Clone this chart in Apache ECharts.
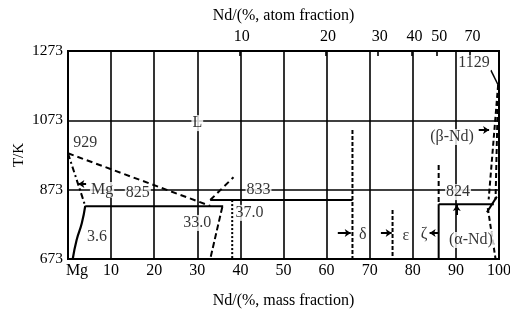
<!DOCTYPE html>
<html>
<head>
<meta charset="utf-8">
<script src="https://cdn.jsdelivr.net/npm/echarts@6.0.0/dist/echarts.min.js"></script>
<style>
  html, body { margin: 0; padding: 0; background: #fff; }
  #main { width: 510px; height: 310px; }
</style>
</head>
<body>
<div id="main"></div>
<script>
// Mg-Nd phase diagram (mass %, K)
var yTicks = [673, 873, 1073, 1273];
var atomTicks = [10, 20, 30, 40, 50, 70];

var mgLiquidus = [[0, 978], [33, 826]];
var mgSolidus = [[0, 978], [4, 826]];
var mgSolvus = [[4, 826], [3.2, 776], [2.0, 728], [1.1, 673]];
var eutectic825 = [[4, 825], [36, 825]];
var liquidus37 = [[33, 843], [38.4, 909]];
var line833 = [[33, 843], [66, 843]];
var phase33 = [[35.8, 823], [33, 673]];
var phase37 = [[38.1, 843], [38.1, 673]];
var deltaLine = [[66, 1045], [66, 673]];
var epsLine = [[75.3, 814], [75.3, 673]];
var zetaUpper = [[86, 944], [86, 831]];
var zetaLower = [[86, 831], [86, 673]];
var line824 = [[86, 831], [98.8, 831]];
var ndLeader = [[98.1, 1218], [99.8, 1175]];
var ndLiq1 = [[99.8, 1175], [97.6, 845]];
var ndLiq2 = [[99.8, 1175], [99.2, 845]];
var ndSolvus = [[97.4, 820], [99.2, 673]];
var ndCross = [[97.2, 808], [99.5, 853]];

// small pointer arrows next to the phase names
var arrows = [
  [[4.2, 889], [2.4, 889]],
  [[62.6, 748], [65.6, 748]],
  [[72.6, 748], [75.1, 748]],
  [[86, 748], [83.9, 748]],
  [[95.3, 1045], [97.7, 1045]],
  [[90.2, 800], [90.2, 829]]
];

var notes = [
  [4.0, 1008, '929'],
  [7.9, 872, 'Mg'],
  [16.2, 863, '825'],
  [6.7, 736, '3.6'],
  [30, 1065, 'L'],
  [30, 777, '33.0'],
  [42.1, 806, '37.0'],
  [44.2, 872, '833'],
  [68.4, 742, 'δ'],
  [78.4, 739, 'ε'],
  [82.6, 745, 'ζ'],
  [90.5, 866, '824'],
  [89.1, 1025, '(β-Nd)'],
  [93.5, 728, '(α-Nd)'],
  [94.2, 1238, '1129']
];

// atom % -> mass % (Mg 24.305, Nd 144.24), for the top axis
function atomToMass(a) {
  var nd = a * 144.24, mg = (100 - a) * 24.305;
  return 100 * nd / (nd + mg);
}
var atomMass = atomTicks.map(atomToMass);

var font = 'Liberation Serif';
var ink = '#000';

function seg(data, type, width) {
  return {
    type: 'line', data: data, symbol: 'none', silent: true,
    lineStyle: { color: ink, width: width || 2, type: type || 'solid' },
    z: 3
  };
}

var series = [
  seg(mgLiquidus, [6, 4]),
  seg(mgSolidus, [6, 3, 2, 3]),
  Object.assign(seg(mgSolvus, 'solid', 2.2), { smooth: true }),
  seg(eutectic825, 'solid', 2),
  seg(liquidus37, [6, 4]),
  seg(line833, 'solid', 2),
  seg(phase33, [6, 3]),
  seg(phase37, [2, 2]),
  seg(deltaLine, [4, 2]),
  seg(epsLine, [4, 2]),
  seg(zetaUpper, [5, 3]),
  seg(zetaLower, 'solid', 2),
  seg(line824, 'solid', 2),
  seg(ndLeader, 'solid', 1.5),
  seg(ndLiq1, [5, 3]),
  seg(ndLiq2, [5, 3]),
  seg(ndSolvus, [5, 3]),
  seg(ndCross, 'solid', 2)
];

series.push({
  type: 'lines',
  coordinateSystem: 'cartesian2d',
  silent: true,
  symbol: ['none', 'arrow'],
  symbolSize: 6,
  lineStyle: { color: ink, width: 2, opacity: 1 },
  data: arrows.map(function (a) { return { coords: a }; }),
  z: 4
});

series.push({
  type: 'scatter',
  data: notes,
  symbolSize: 1,
  silent: true,
  itemStyle: { color: 'transparent' },
  z: 10,
  label: {
    show: true,
    position: 'inside',
    formatter: function (p) { return p.value[2]; },
    color: ink,
    fontFamily: font,
    fontSize: 16,
    backgroundColor: '#fff',
    padding: [0, 1]
  }
});

var chart = echarts.init(document.getElementById('main'), null, { renderer: 'canvas' });
chart.setOption({
  backgroundColor: '#fff',
  animation: false,
  textStyle: { fontFamily: font },
  grid: {
    left: 68, right: 11, top: 51, bottom: 51,
    outerBoundsMode: 'none',
    show: true, borderColor: ink, borderWidth: 2
  },
  xAxis: [{
    type: 'value', min: 0, max: 100, interval: 10,
    position: 'bottom',
    name: 'Nd/(%, mass fraction)',
    nameLocation: 'middle', nameGap: 34,
    nameTextStyle: { color: ink, fontFamily: font, fontSize: 16 },
    axisLine: { show: true, lineStyle: { color: ink, width: 2 } },
    axisTick: { show: false },
    axisLabel: {
      color: ink, fontFamily: font, fontSize: 16, margin: 4,
      formatter: function (v) { return v === 0 ? '{mg|Mg}' : String(v); },
      rich: { mg: { fontFamily: font, fontSize: 16, color: ink, padding: [0, 0, 0, 18] } }
    },
    splitLine: { show: true, lineStyle: { color: ink, width: 1.6 } }
  }, {
    type: 'value', min: 0, max: 100,
    position: 'top',
    name: 'Nd/(%, atom fraction)',
    nameLocation: 'middle', nameGap: 27,
    nameTextStyle: { color: ink, fontFamily: font, fontSize: 16 },
    axisLine: { show: false },
    axisTick: {
      show: true, inside: true, length: 5, customValues: atomMass,
      lineStyle: { color: ink, width: 1.6 }
    },
    axisLabel: {
      color: ink, fontFamily: font, fontSize: 16, margin: 6,
      customValues: atomMass,
      formatter: function (v) {
        for (var i = 0; i < atomMass.length; i++) {
          if (Math.abs(atomMass[i] - v) < 1e-6) return '{t|' + atomTicks[i] + '}';
        }
        return '';
      },
      rich: { t: { fontFamily: font, fontSize: 16, color: ink, padding: [0, 0, 0, 5] } }
    },
    splitLine: { show: false }
  }],
  yAxis: {
    type: 'value', min: yTicks[0], max: yTicks[yTicks.length - 1], interval: 200,
    name: 'T/K',
    nameLocation: 'middle', nameGap: 41, nameRotate: 90,
    nameMoveOverlap: false,
    nameTextStyle: { color: ink, fontFamily: font, fontSize: 15 },
    axisLine: { show: true, lineStyle: { color: ink, width: 2 } },
    axisTick: { show: false },
    axisLabel: {
      color: ink, fontFamily: font, fontSize: 15.5, margin: 5,
      formatter: function (v) { return String(v); }
    },
    splitLine: { show: true, lineStyle: { color: ink, width: 1.6 } }
  },
  series: series
});
</script>
</body>
</html>
